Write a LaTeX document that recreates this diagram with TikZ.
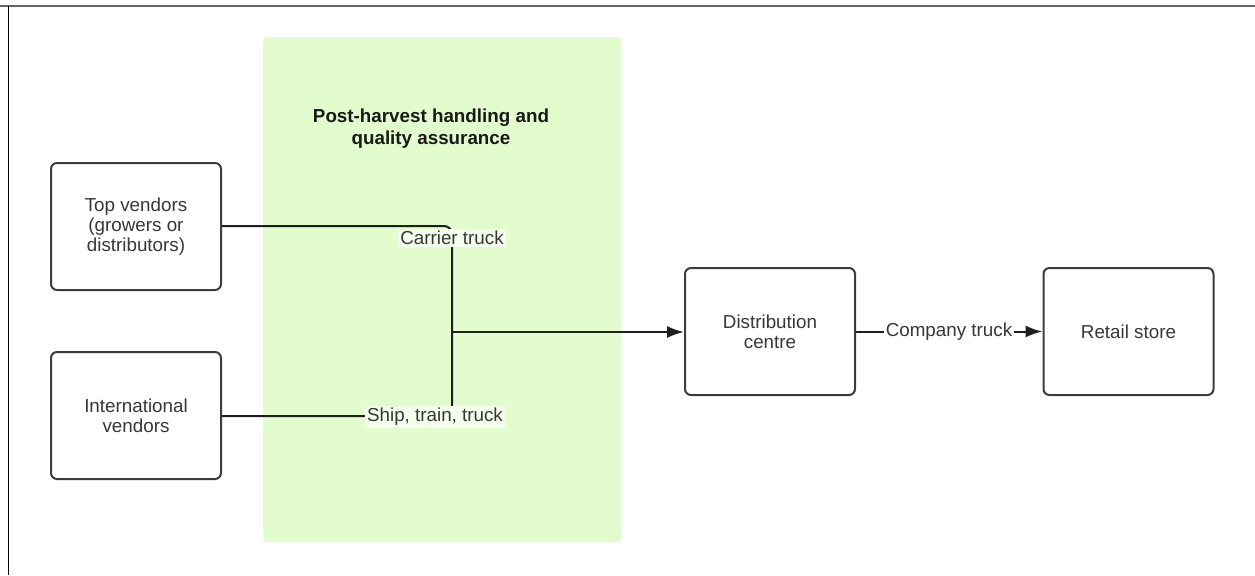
\documentclass[tikz,border=0pt]{standalone}
\usepackage{fontspec}
\setmainfont{Liberation Sans}
\usetikzlibrary{arrows.meta}
\definecolor{zonegreen}{RGB}{227,252,205}
\definecolor{boxline}{RGB}{60,60,60}
\definecolor{txt}{RGB}{55,55,55}
\definecolor{wire}{RGB}{30,30,30}
\tikzset{
  stagebox/.style={draw=boxline, line width=1pt, rounded corners=3pt, fill=white,
    minimum width=85pt, minimum height=63.5pt, align=center, text=txt,
    font=\fontsize{9.4}{10}\selectfont, inner sep=0pt},
  wirelab/.style={fill=white, text=txt,
    font=\fontsize{9.4}{10}\selectfont, inner sep=1pt},
  zonelab/.style={wirelab, fill=zonegreen!35!white},
  wireline/.style={draw=wire, line width=1pt},
  wirearrow/.style={wireline, -{Latex[length=8.5pt,width=6pt]}},
}
\begin{document}
\begin{tikzpicture}[x=0.5pt,y=-0.5pt]
\useasboundingbox (0,0) rectangle (1255,575);
% frame
\draw[draw=gray!80!black, line width=1pt] (0,6) -- (1255,6);
\draw[draw=black, line width=0.5pt] (8,6) -- (8,575);
% green zone
\node[fill=zonegreen, draw=none, rounded corners=2pt, minimum width=179pt, minimum height=252.5pt, inner sep=0pt] (zone) at (442,289.5) {};
\node[font=\bfseries\fontsize{9.4}{11}\selectfont, text=black!90, align=center] (title) at (431,129) {Post-harvest handling and\\quality assurance};
% boxes
\node[stagebox] (top) at (136,226.5) {Top vendors\\(growers or\\distributors)};
\node[stagebox] (intl) at (136,415.5) {International\\vendors};
\node[stagebox] (dist) at (770,331.5) {Distribution\\centre};
\node[stagebox] (retail) at (1128.5,331.5) {Retail store};
% connectors
\coordinate (c1) at (452,226);
\coordinate (c2) at (452,416);
\coordinate (j) at (452,332);
\draw[wireline, rounded corners=4pt] (top.east |- c1) -- (c1) -- (j);
\draw[wireline, rounded corners=4pt] (intl.east |- c2) -- (c2) -- (j);
\draw[wirearrow] (j) -- (dist.west |- j);
\node[zonelab] (lab1) at (452,238) {Carrier truck};
\node[zonelab] (lab2) at (435,417) {Ship, train, truck};
\draw[wirearrow] (dist.east) -- (retail.west);
\node[wirelab] (lab3) at (949,331.5) {Company truck};
\end{tikzpicture}
\end{document}
